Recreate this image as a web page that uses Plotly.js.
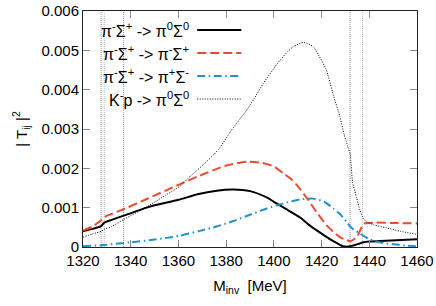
<!DOCTYPE html>
<html>
<head>
<meta charset="utf-8">
<script src="https://cdn.plot.ly/plotly-3.0.1.min.js"></script>
<style>html,body{margin:0;padding:0;background:#fff;}#chart{width:436px;height:306px;}</style>
</head>
<body>
<div id="chart"></div>
<script>
// Invariant mass (MeV) and |T_ij|^2 values (units of 1e-3)
var mPi0Sig0 = [1320,1324,1327.6,1328.9,1332,1337.7,1346.7,1350,1360,1368,1376,1383,1390,1397,1400,1405,1411,1415,1420,1424,1427,1429,1431,1432,1434,1436,1437.5,1440,1447,1460];
var tPi0Sig0 = [0.40,0.46,0.53,0.62,0.69,0.81,1.00,1.06,1.20,1.34,1.43,1.46,1.42,1.26,1.15,0.97,0.75,0.55,0.34,0.18,0.08,0.02,0.01,0.02,0.05,0.09,0.12,0.14,0.16,0.20];

var mPimSigp = [1320,1324,1327.6,1328.9,1332,1337.7,1346.7,1360,1368,1380,1389,1395,1400,1404,1407,1410,1414,1418,1422,1426,1428,1430.5,1432,1433.5,1435,1437.2,1438,1442,1450,1460];
var tPimSigp = [0.42,0.52,0.68,0.76,0.84,0.98,1.22,1.58,1.79,2.07,2.17,2.14,2.05,1.87,1.74,1.55,1.23,0.88,0.56,0.33,0.24,0.18,0.15,0.19,0.28,0.55,0.60,0.62,0.61,0.60];

var mPipSigm = [1320,1330,1340,1350,1360,1369,1376,1383,1390,1397,1404,1411,1416.5,1421,1425,1428,1430.5,1432,1433.5,1435.5,1437.5,1440,1442,1446,1450,1455,1460];
var tPipSigm = [0.02,0.06,0.12,0.19,0.28,0.41,0.52,0.66,0.82,0.98,1.11,1.21,1.23,1.15,0.98,0.82,0.64,0.52,0.44,0.37,0.29,0.20,0.15,0.10,0.07,0.04,0.02];

var mKp = [1320,1324,1327.6,1328.9,1332,1337.7,1346.7,1355,1360.7,1364.8,1368,1376.7,1382,1388.6,1391.4,1395.6,1402.6,1408,1412.6,1416.5,1419,1422,1425,1427.7,1429.5,1431,1432,1433,1434.7,1436,1437.5,1439,1442,1447,1453,1460];
var tKp = [0.25,0.33,0.40,0.45,0.52,0.72,1.02,1.33,1.55,1.79,1.96,2.47,2.95,3.48,3.74,4.16,4.75,5.09,5.20,5.09,4.85,4.50,3.85,3.31,2.85,2.55,2.35,1.65,1.25,0.95,0.72,0.64,0.56,0.49,0.40,0.32];

// Thresholds (MeV): pi0Sig0, pi-Sig+, pi+Sig-, K-p, K0bar n
var thresholds = [1327.6, 1328.9, 1337.0, 1431.95, 1437.2];
var thresholdColors = ['#999', '#bbb', '#999', '#999', '#bbb'];

var yTickVals = [0, 0.001, 0.002, 0.003, 0.004, 0.005, 0.006];
var yTickText = ['0', '0.001', '0.002', '0.003', '0.004', '0.005', '0.006'];
var xTickVals = [1320, 1340, 1360, 1380, 1400, 1420, 1440, 1460];

var legendLabels = [
  'π<sup>-</sup>Σ<sup>+</sup> -> π<sup>0</sup>Σ<sup>0</sup>',
  'π<sup>-</sup>Σ<sup>+</sup> -> π<sup>-</sup>Σ<sup>+</sup>',
  'π<sup>-</sup>Σ<sup>+</sup> -> π<sup>+</sup>Σ<sup>-</sup>',
  'K<sup>-</sup>p -> π<sup>0</sup>Σ<sup>0</sup>'
];

function scale(a) { return a.map(function (v) { return v * 1e-3; }); }

var styles = [
  {color: '#000000', width: 2, dash: 'solid'},
  {color: '#ec4a2c', width: 2, dash: '9px,4px'},
  {color: '#1e92d4', width: 2, dash: '8px,3.5px,1.5px,3.5px'},
  {color: '#000000', width: 1, dash: '1px,1.5px'}
];

var traces = [];
thresholds.forEach(function (t, i) {
  traces.push({x: [t, t], y: [0, 0.006], mode: 'lines', showlegend: false, hoverinfo: 'skip',
    line: {color: thresholdColors[i], width: 1, dash: '1px,1px'}});
});
var series = [[mPi0Sig0, tPi0Sig0], [mPimSigp, tPimSigp], [mPipSigm, tPipSigm], [mKp, tKp]];
series.forEach(function (s, i) {
  traces.push({x: s[0], y: scale(s[1]), mode: 'lines', showlegend: false,
    line: {color: styles[i].color, width: styles[i].width, dash: styles[i].dash, shape: 'spline', smoothing: 0.6}});
});

var rowsY = [0.919, 0.822, 0.725, 0.627];
var annotations = [];
var shapes = [];
legendLabels.forEach(function (lab, i) {
  annotations.push({xref: 'paper', yref: 'paper', x: 0.322, y: rowsY[i], xanchor: 'right', yanchor: 'middle',
    text: lab, showarrow: false, font: {size: 16, color: '#000'}});
  shapes.push({type: 'line', xref: 'paper', yref: 'paper', x0: 0.342, x1: 0.474, y0: rowsY[i], y1: rowsY[i],
    line: {color: styles[i].color, width: styles[i].width, dash: styles[i].dash}});
});

var layout = {
  width: 436, height: 306,
  margin: {l: 83, r: 19, t: 11, b: 59},
  paper_bgcolor: '#fff', plot_bgcolor: '#fff',
  font: {family: 'Liberation Sans, Arial, sans-serif', size: 15, color: '#000'},
  showlegend: false,
  xaxis: {
    range: [1320, 1460], tickvals: xTickVals, ticks: 'inside', ticklen: 7, tickcolor: '#888',
    showline: true, linecolor: '#222', linewidth: 1, mirror: 'ticks', showgrid: false, zeroline: false,
    title: {text: 'M<sub>inv</sub>  [MeV]', font: {size: 15}, standoff: 12},
    tickfont: {size: 15}
  },
  yaxis: {
    range: [0, 0.006], tickvals: yTickVals, ticktext: yTickText, ticks: 'inside', ticklen: 7, tickcolor: '#888',
    showline: true, linecolor: '#222', linewidth: 1, mirror: 'ticks', showgrid: false, zeroline: false,
    title: {text: '| T<sub>ij</sub> |<sup>2</sup>', font: {size: 15}, standoff: 10},
    tickfont: {size: 15}
  },
  annotations: annotations,
  shapes: shapes
};

Plotly.newPlot('chart', traces, layout, {staticPlot: true, displayModeBar: false});
</script>
</body>
</html>
